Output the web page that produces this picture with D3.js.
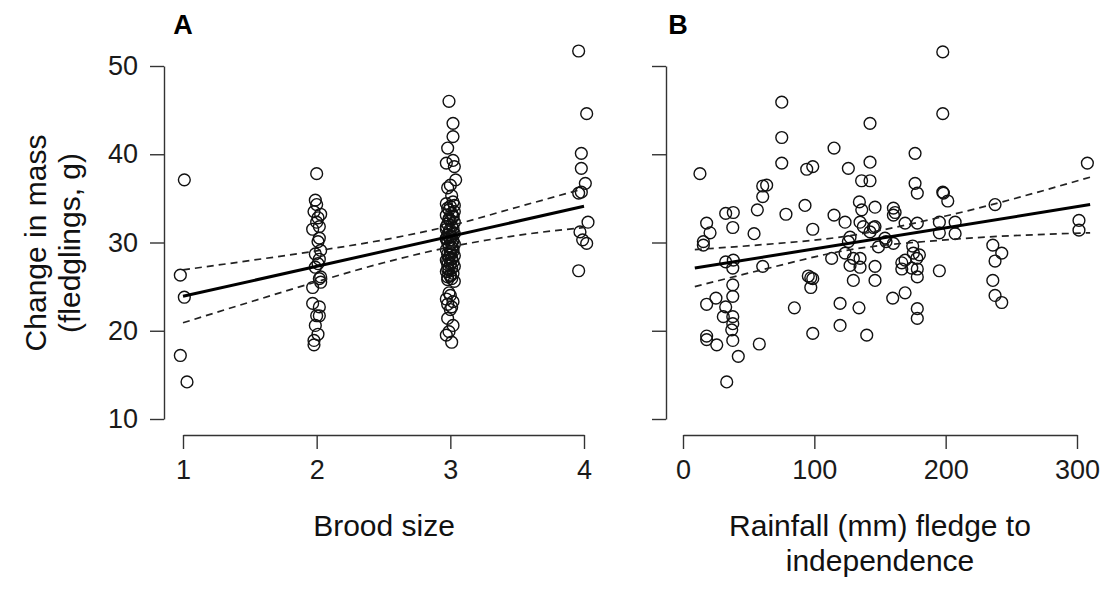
<!DOCTYPE html>
<html>
<head>
<meta charset="utf-8">
<script src="https://cdn.jsdelivr.net/npm/d3@7"></script>
<style>
  html, body { margin: 0; padding: 0; background: #fff; }
  svg { display: block; font-family: "Liberation Sans", Arial, sans-serif; }
</style>
</head>
<body>
<svg id="chart" width="1106" height="608"></svg>
<script>
// ---------- Data ----------
// Panel A: brood size (with small horizontal jitter) vs change in mass
const broodSize = [
  // brood size 1
  1.01, 0.98, 1.01, 0.98, 1.03,
  // brood size 2
  2.00, 1.99, 2.00, 1.98, 2.03, 2.01, 2.00, 2.02, 1.97, 2.02, 2.01, 2.03, 1.99, 2.02, 2.01,
  1.99, 2.03, 2.02, 2.03, 1.97, 1.97, 2.02, 2.00, 2.02, 1.99, 2.01, 1.98, 1.98,
  // brood size 3
  2.99, 3.02, 3.02, 2.98, 2.97, 3.02, 3.03, 3.04, 3.00, 2.98, 3.01, 3.02, 2.97, 3.00,
  2.98, 2.99, 3.03, 3.01, 2.97, 3.02, 2.99, 3.00, 3.03, 2.98, 3.01, 2.97, 3.02, 3.00, 2.99,
  3.03, 2.98, 3.01, 2.97, 3.00, 3.02, 2.98, 3.03, 2.99, 3.01, 2.97, 3.02, 3.00, 2.98, 3.03,
  2.99, 3.01, 2.97, 3.02, 3.00, 2.98, 3.03, 3.01, 2.99, 2.97, 3.02, 3.00, 2.98, 3.01, 3.03,
  2.99, 2.97, 3.02, 3.00, 2.98, 3.01, 2.99, 3.02, 2.98, 3.00, 3.03, 2.97, 3.01, 3.02, 2.98,
  2.99, 3.00, 2.97, 3.02, 2.98, 3.01, 3.00, 2.98, 3.02, 2.99, 2.97, 3.01,
  // brood size 4
  3.96, 4.02, 3.98, 3.98, 4.01, 3.96, 3.98, 4.03, 3.97, 3.99, 4.02, 3.96
];
const massA = [
  // brood size 1
  37.1, 26.3, 23.8, 17.2, 14.2,
  // brood size 2
  37.8, 34.8, 34.3, 33.5, 33.2, 32.8, 32.3, 31.8, 31.5, 30.5, 30.1, 29.1, 28.7, 28.1, 27.6,
  27.2, 26.1, 25.9, 25.5, 24.9, 23.1, 22.7, 21.7, 21.7, 20.6, 19.6, 18.9, 18.4,
  // brood size 3
  46.0, 43.5, 42.0, 40.7, 39.0, 39.3, 38.6, 37.1, 36.5, 36.2, 35.3, 34.6, 34.4, 34.1,
  33.9, 33.7, 33.5, 33.3, 33.1, 32.9, 32.7, 32.5, 32.3, 32.1, 31.9, 31.8, 31.6, 31.4, 31.2,
  31.0, 30.9, 30.7, 30.5, 30.3, 30.2, 30.0, 29.8, 29.6, 29.4, 29.2, 29.0, 28.9, 28.7, 28.5,
  28.3, 28.2, 28.0, 27.8, 27.6, 27.5, 27.3, 27.1, 26.9, 26.7, 26.5, 26.3, 26.1, 25.9, 25.6,
  30.6, 31.5, 33.0, 28.6, 27.9, 29.9, 32.6, 31.1, 27.0, 26.2, 34.2, 30.4, 28.1, 29.3, 25.8,
  24.3, 24.0, 23.6, 23.3, 23.0, 22.7, 22.4, 21.4, 20.6, 19.9, 19.5, 18.7,
  // brood size 4
  51.7, 44.6, 40.1, 38.4, 36.7, 35.6, 35.7, 32.3, 31.2, 30.3, 29.9, 26.8
];

// Panel A fitted line and 95% confidence band
const fitAX = [1, 4];
const fitAY = [23.9, 34.1];
const ciAX = [1, 1.5, 2, 2.5, 3, 3.5, 4];
const ciAUpper = [26.9, 27.95, 29.05, 30.3, 31.9, 34.0, 36.1];
const ciALower = [20.9, 23.25, 25.55, 27.7, 29.5, 30.8, 31.7];

// Panel B: rainfall (mm) fledge to independence vs change in mass
const rainfall = [
  12.9, 75.2, 75.2, 75.2, 94.2, 98.8, 115.0, 125.9, 142.4, 142.4, 136.0, 142.4,
  60.7, 63.7, 60.7, 56.6, 78.4, 92.9, 115.0, 123.4, 134.3, 136.1, 146.2,
  18.0, 20.6, 15.5, 15.5, 32.5, 38.3, 37.9, 54.1, 98.8, 134.8, 137.3, 146.2,
  125.9, 127.2, 142.4, 148.8, 123.4, 129.7, 134.8, 127.2, 134.8, 113.2, 146.2, 129.7, 146.2,
  32.5, 38.3, 37.9, 60.7, 37.9, 37.9, 25.1, 18.0, 32.5, 30.7, 37.9, 37.9, 37.1,
  18.0, 18.0, 25.7, 37.9, 42.1, 58.1, 33.3, 84.8, 98.8, 95.4, 97.3, 98.8, 97.3,
  119.6, 119.6, 134.0, 139.9,
  197.8, 197.8, 176.7, 176.7, 178.4, 197.8, 198.3, 201.6, 160.2, 161.5, 160.2,
  169.1, 178.4, 195.2, 207.2, 195.2, 207.2, 237.6, 301.5, 301.5, 307.9,
  145.0, 153.8, 154.6, 160.2, 174.9, 175.4, 180.0, 178.0, 166.6, 169.1, 166.6,
  174.2, 178.4, 178.4, 195.2, 169.1, 159.7, 178.4, 178.4,
  235.9, 242.7, 237.6, 235.9, 237.6, 242.7
];
const massB = [
  37.8, 45.9, 41.9, 39.0, 38.3, 38.6, 40.7, 38.4, 43.5, 39.1, 37.0, 37.0,
  36.4, 36.5, 35.2, 33.7, 33.2, 34.2, 33.1, 32.3, 34.6, 33.7, 34.0,
  32.2, 31.1, 30.1, 29.7, 33.3, 33.4, 31.7, 31.0, 31.5, 32.3, 31.8, 31.8,
  30.1, 30.6, 31.2, 29.5, 28.8, 28.2, 28.2, 27.4, 27.2, 28.2, 27.3, 25.7, 25.7,
  27.8, 28.0, 27.1, 27.3, 25.2, 23.9, 23.7, 23.0, 22.7, 21.6, 21.6, 20.8, 20.1,
  19.4, 19.0, 18.4, 18.9, 17.1, 18.5, 14.2, 22.6, 19.7, 26.2, 26.0, 25.9, 24.9,
  23.1, 20.6, 22.6, 19.5,
  51.6, 44.6, 40.1, 36.7, 35.6, 35.7, 35.6, 34.7, 33.9, 33.4, 33.1,
  32.2, 32.2, 32.3, 32.3, 31.1, 31.0, 34.3, 32.5, 31.4, 39.0,
  31.7, 30.5, 30.1, 29.9, 29.6, 28.8, 28.6, 28.2, 27.7, 28.0, 27.0,
  27.1, 27.0, 26.1, 26.8, 24.3, 23.7, 22.5, 21.4,
  29.7, 28.8, 27.9, 25.7, 24.0, 23.2
];

// Panel B fitted line and 95% confidence band
const fitBX = [9, 310];
const fitBY = [27.1, 34.3];
const ciBX = [9, 60, 124, 200, 310];
const ciBUpper = [29.2, 29.75, 30.7, 33.0, 37.4];
const ciBLower = [25.0, 26.9, 29.1, 30.3, 31.1];

// Tick labels
const yTicks = [10, 20, 30, 40, 50];
const xTicksA = [1, 2, 3, 4];
const xTicksB = [0, 100, 200, 300];

// ---------- Drawing ----------
const svg = d3.select("#chart");
const FONT = '"Liberation Sans", Arial, sans-serif';
const axisColor = "#333";

const y = d3.scaleLinear().domain([10, 50]).range([419, 66]);
const xA = d3.scaleLinear().domain([1, 4]).range([183, 584]);
const xB = d3.scaleLinear().domain([0, 300]).range([683, 1077]);

function styleAxis(g) {
  g.selectAll("path.domain").attr("stroke", axisColor).attr("stroke-width", 1.4);
  g.selectAll(".tick line").attr("stroke", axisColor).attr("stroke-width", 1.4);
  g.selectAll(".tick text").attr("fill", "#1a1a1a").style("font-size", "27px").style("font-family", FONT);
}

function panel(x, xs, ys, fitX, fitY, ciX, ciU, ciL, xTicks, yAxisX, showYLabels, letter, letterX) {
  const yAx = d3.axisLeft(y).tickValues(yTicks).tickSize(14).tickSizeOuter(0).tickPadding(12)
    .tickFormat(showYLabels ? d3.format("d") : () => "");
  svg.append("g").attr("transform", `translate(${yAxisX},0)`).call(yAx).call(styleAxis);

  const xAx = d3.axisBottom(x).tickValues(xTicks).tickSize(14).tickSizeOuter(0).tickPadding(11)
    .tickFormat(d3.format("d"));
  svg.append("g").attr("transform", `translate(0,435)`).call(xAx).call(styleAxis);

  svg.append("g").selectAll("circle").data(xs.map((d, i) => [d, ys[i]])).join("circle")
    .attr("cx", d => x(d[0])).attr("cy", d => y(d[1])).attr("r", 5.9)
    .attr("fill", "none").attr("stroke", "#111").attr("stroke-width", 1.4);

  const ln = d3.line().x(d => x(d[0])).y(d => y(d[1])).curve(d3.curveMonotoneX);
  [ciU, ciL].forEach(arr => {
    svg.append("path").attr("d", ln(ciX.map((d, i) => [d, arr[i]])))
      .attr("fill", "none").attr("stroke", "#222").attr("stroke-width", 1.7)
      .attr("stroke-dasharray", "7,5");
  });
  svg.append("path").attr("d", d3.line().x(d => x(d[0])).y(d => y(d[1]))(fitX.map((d, i) => [d, fitY[i]])))
    .attr("fill", "none").attr("stroke", "#000").attr("stroke-width", 3);

  svg.append("text").attr("x", letterX).attr("y", 34).attr("text-anchor", "middle")
    .style("font-family", FONT).style("font-size", "27px").style("font-weight", "bold")
    .text(letter);
}

panel(xA, broodSize, massA, fitAX, fitAY, ciAX, ciAUpper, ciALower, xTicksA, 164, true, "A", 183);
panel(xB, rainfall, massB, fitBX, fitBY, ciBX, ciBUpper, ciBLower, xTicksB, 666, false, "B", 678);

const titleSize = "30px";
const yTitle = svg.append("text").attr("transform", "translate(0,243) rotate(-90)")
  .attr("text-anchor", "middle").style("font-family", FONT).style("font-size", titleSize).attr("fill", "#111");
yTitle.append("tspan").attr("x", 0).attr("y", 46).text("Change in mass");
yTitle.append("tspan").attr("x", 0).attr("y", 80).text("(fledglings, g)");

svg.append("text").attr("x", 384).attr("y", 536).attr("text-anchor", "middle")
  .style("font-family", FONT).style("font-size", titleSize).attr("fill", "#111").text("Brood size");

const xbTitle = svg.append("text").attr("text-anchor", "middle")
  .style("font-family", FONT).style("font-size", titleSize).attr("fill", "#111");
xbTitle.append("tspan").attr("x", 880).attr("y", 536).text("Rainfall (mm) fledge to");
xbTitle.append("tspan").attr("x", 880).attr("y", 571).text("independence");
</script>
</body>
</html>
